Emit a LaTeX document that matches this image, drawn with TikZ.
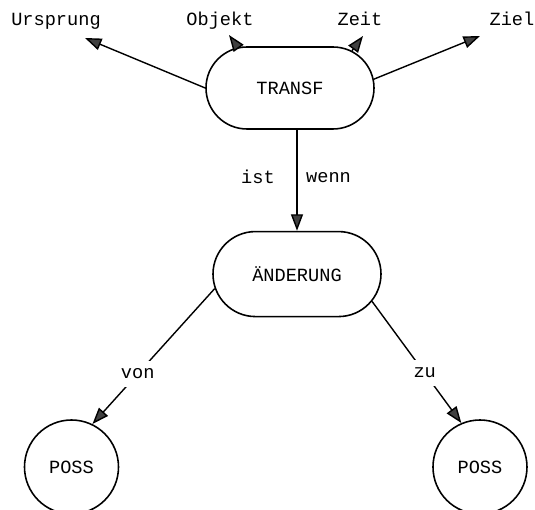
\documentclass[tikz,border=0pt]{standalone}
\usepackage{fontspec}
\setmonofont{Liberation Mono}
\usetikzlibrary{arrows.meta,positioning,shapes.misc}

\begin{document}
\begin{tikzpicture}[
  box/.style={draw, rounded rectangle, line width=0.9pt, inner sep=0pt,
              minimum width=3.36cm, minimum height=1.64cm,
              font=\fontsize{10.6}{12}\selectfont\ttfamily},
  poss/.style={draw, circle, line width=0.9pt, minimum size=1.88cm,
               font=\fontsize{10.6}{12}\selectfont\ttfamily},
  lbl/.style={font=\fontsize{10.6}{12}\selectfont\ttfamily, inner sep=2pt},
  cut/.style={lbl, fill=white, inner sep=4.5pt},
  ar/.style={-{Triangle[length=3.3mm, width=2.4mm, fill=black!75]}, line width=0.8pt},
  node distance=2cm
]
  \useasboundingbox (0,0) rectangle (10.7,-10.2);

  \node[box] (transf) at (5.8,-1.76) {TRANSF};
  \node[box, minimum height=1.7cm, below=2.02cm of transf, xshift=0.14cm] (chg) {ÄNDERUNG};
  \node[poss] (poss1) at (1.43,-9.34) {POSS};
  \node[poss] (poss2) at (9.6,-9.34) {POSS};

  % obere Rollen
  \node[lbl, anchor=base] (urs)  at (1.12,-0.52) {Ursprung};
  \node[lbl, anchor=base] (obj)  at (4.4,-0.52)  {Objekt};
  \node[lbl, anchor=base] (zeit) at (7.2,-0.52)  {Zeit};
  \node[lbl, anchor=base] (ziel) at (10.24,-0.52) {Ziel};
  \coordinate (urs-tip)  at (1.7,-0.76);
  \coordinate (obj-tip)  at (4.58,-0.7);
  \coordinate (zeit-tip) at (7.26,-0.72);
  \coordinate (ziel-tip) at (9.6,-0.72);

  \draw[ar] (transf.west) -- (urs-tip);
  \draw[ar] (transf.142) -- (obj-tip);
  \draw[ar] (transf.31) -- (zeit-tip);
  \draw[ar] (transf.6) -- (ziel-tip);

  \draw[ar] (transf.south -| chg.north) --
    node[lbl, pos=0.47, left=0.36cm] {ist}
    node[lbl, pos=0.47, right=0.1cm] {wenn} (chg.north);

  \draw[ar] (chg.190) -- node[cut, pos=0.63] {von} (poss1.64);
  \draw[ar] (chg.340) -- node[cut, pos=0.59] {zu} (poss2.113);

\end{tikzpicture}
\end{document}
